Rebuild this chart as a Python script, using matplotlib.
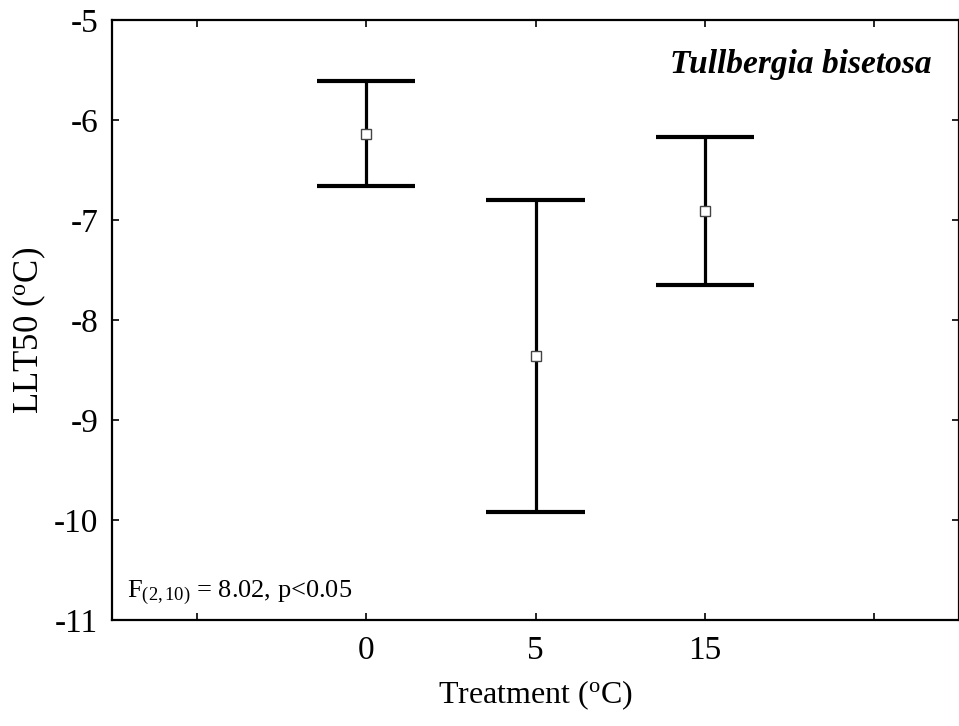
import matplotlib.pyplot as plt
import numpy as np

plt.rcParams["font.family"] = ["Liberation Serif", "DejaVu Serif"]
plt.rcParams["mathtext.fontset"] = "custom"
plt.rcParams["mathtext.rm"] = "Liberation Serif"
plt.rcParams["mathtext.it"] = "Liberation Serif:italic"

# LLT50 by acclimation treatment: mean with upper / lower interval limits
treatments = ["0", "5", "15"]
means = [-6.14, -8.36, -6.91]
upper = [-5.61, -6.80, -6.17]
lower = [-6.66, -9.92, -7.645]

x = np.arange(len(treatments))
cap_half = 0.29

fig = plt.figure(figsize=(9.59, 7.26), dpi=100)
ax = fig.add_axes([0.117, 0.146, 0.883, 0.826])

# whiskers and caps
ax.vlines(x, lower, upper, color="black", linewidth=2.3, zorder=2)
ax.hlines(upper, x - cap_half, x + cap_half, color="black", linewidth=3.0, zorder=2)
ax.hlines(lower, x - cap_half, x + cap_half, color="black", linewidth=3.0, zorder=2)
ax.plot(x, means, "s", markersize=6.5, markerfacecolor="white",
        markeredgecolor="#444444", markeredgewidth=1.0, zorder=3)

ax.set_xlim(-1.5, 3.5)
ax.set_ylim(-11, -5)
ax.set_xticks([-1, 0, 1, 2, 3])
ax.set_xticklabels(["", *treatments, ""])
ax.set_yticks(np.arange(-11, -4, 1))
ax.set_yticklabels([str(v) for v in range(-11, -4)])

ax.tick_params(direction="in", length=5, width=1.2, top=True, right=True,
               labelsize=24)
ax.tick_params(axis="x", pad=11)
ax.tick_params(axis="y", pad=10)
for spine in ax.spines.values():
    spine.set_linewidth(1.6)

ax.set_xlabel(r"Treatment ($^{\mathrm{o}}$C)", fontsize=23, labelpad=9)
ax.set_ylabel(r"LLT50 ($^{\mathrm{o}}$C)", fontsize=25)
ax.yaxis.set_label_coords(-0.076, 0.483)

ax.text(0.968, 0.927, "Tullbergia bisetosa", transform=ax.transAxes,
        ha="right", va="center", fontsize=24, fontweight="bold",
        fontstyle="italic")
ax.text(0.018, 0.045, r"F$_{(2,10)}$ = 8.02, p<0.05", transform=ax.transAxes,
        ha="left", va="center", fontsize=19)

fig.savefig("out.png", dpi=100)
